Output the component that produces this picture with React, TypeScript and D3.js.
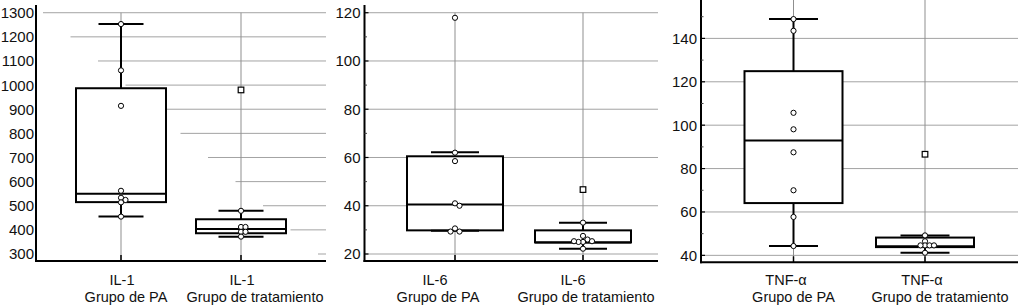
import React from "react";
import * as d3 from "d3";

const categories = ["Grupo de PA", "Grupo de tratamiento"];
const markers = ["IL-1", "IL-6", "TNF-α"];

const il1Box = [
  { lo: 455, q1: 515, med: 550, q3: 987, hi: 1253 },
  { lo: 372, q1: 386, med: 404, q3: 444, hi: 479 },
];
const il1Points = [
  [1253, 1061, 914, 562, 533, 524, 514, 455],
  [479, 412, 412, 392, 392, 372],
];
const il1Outliers = [[], [980]];
const il1Ticks = [300, 400, 500, 600, 700, 800, 900, 1000, 1100, 1200, 1300];
const il1Minor: number[] = [];

const il6Box = [
  { lo: 29.6, q1: 29.8, med: 40.5, q3: 60.5, hi: 62.2 },
  { lo: 22.2, q1: 24.8, med: 24.8, q3: 29.8, hi: 33 },
];
const il6Points = [
  [117.9, 62, 58.5, 41, 40, 30.6, 29.3, 29.3],
  [33, 27.5, 26, 25, 25, 25.3, 25.3, 22.2],
];
const il6Outliers = [[], [46.7]];
const il6Ticks = [20, 40, 60, 80, 100, 120];
const il6Minor = [30, 50, 70, 90, 110];

const tnfBox = [
  { lo: 44.3, q1: 64.1, med: 92.9, q3: 124.9, hi: 148.9 },
  { lo: 41.2, q1: 43.8, med: 44.2, q3: 48.2, hi: 49.2 },
];
const tnfPoints = [
  [148.9, 143.5, 105.7, 98.1, 87.5, 70, 57.7, 44.3],
  [49.2, 46.5, 44.6, 44.6, 44.6, 44.6, 41.2],
];
const tnfOutliers = [[], [86.6]];
const tnfTicks = [40, 60, 80, 100, 120, 140];
const tnfMinor = [50, 70, 90, 110, 130, 150];

const panels = [
  {
    marker: markers[0], box: il1Box, points: il1Points, outliers: il1Outliers, ticks: il1Ticks, minor: il1Minor,
    x0: 36, x1: 326, yTop: 5, yBottom: 261, domain: [271, 1332], centers: [121, 241],
    boxHalf: 45, capHalf: 22.5, stair: true, tickLen: 0, vTopVal: 1300,
    dx1: [1, 1], dx2: [5, 14],
  },
  {
    marker: markers[1], box: il6Box, points: il6Points, outliers: il6Outliers, ticks: il6Ticks, minor: il6Minor,
    x0: 364.5, x1: 658, yTop: 5, yBottom: 261, domain: [17.1, 123.2], centers: [455, 583],
    boxHalf: 48, capHalf: 24, stair: false, tickLen: 4, vTopVal: 120,
    dx1: [-20, -10], dx2: [-17, 3],
  },
  {
    marker: markers[2], box: tnfBox, points: tnfPoints, outliers: tnfOutliers, ticks: tnfTicks, minor: tnfMinor,
    x0: 701, x1: 1018, yTop: 0, yBottom: 262.3, domain: [36.8, 157.7], centers: [793.5, 925],
    boxHalf: 49, capHalf: 24.5, stair: false, tickLen: 4, vTopVal: null as number | null,
    dx1: [-7.5, -3], dx2: [0, 15],
  },
];

const FONT = "'Liberation Sans', Arial, Helvetica, sans-serif";
const GRID = "#a3a3a3";

function swarm(vals: number[], y: (v: number) => number, r: number) {
  const placed: { x: number; y: number }[] = [];
  const d = 4.5;
  const cands = [0, d, -d, 2 * d, -2 * d, 3 * d, -3 * d];
  return vals.map((v) => {
    const yy = y(v);
    let chosen = 0;
    for (const c of cands) {
      const ok = placed.every((p) => Math.hypot(p.x - c, p.y - yy) >= 4);
      if (ok) { chosen = c; break; }
    }
    placed.push({ x: chosen, y: yy });
    return { dx: chosen, y: yy };
  });
}

function Panel({ p }: { p: (typeof panels)[number] }) {
  const y = d3.scaleLinear().domain(p.domain).range([p.yBottom, p.yTop]);
  const x = d3.scalePoint<string>().domain(categories).range([p.centers[0], p.centers[1]]);
  const tickSorted = [...p.ticks].sort((a, b) => b - a);
  const stairStep = (p.x1 - p.x0 - 14) / tickSorted.length;
  const vTop = p.vTopVal == null ? p.yTop : y(p.vTopVal);
  return (
    <g>
      {tickSorted.map((t, i) => (
        <line key={"g" + t}
          x1={p.stair ? p.x0 + 7 + i * 27.5 : p.x0} x2={p.x1}
          y1={y(t)} y2={y(t)} stroke={GRID} strokeWidth={1} />
      ))}
      {categories.map((c) => (
        <line key={"v" + c} x1={x(c)} x2={x(c)} y1={vTop} y2={p.yBottom} stroke="#8f8f8f" strokeWidth={1} />
      ))}
      {categories.map((c, gi) => {
        const b = p.box[gi];
        const cx = x(c)!;
        return (
          <g key={"b" + c}>
            <rect x={cx - p.boxHalf} y={y(b.q3)} width={p.boxHalf * 2} height={y(b.q1) - y(b.q3)}
              fill="#fff" stroke="#000" strokeWidth={2} />
            <line x1={cx} x2={cx} y1={y(b.q3)} y2={y(b.hi)} stroke="#000" strokeWidth={2} />
            <line x1={cx} x2={cx} y1={y(b.q1)} y2={y(b.lo)} stroke="#000" strokeWidth={2} />
            <line x1={cx - p.capHalf} x2={cx + p.capHalf} y1={y(b.hi)} y2={y(b.hi)} stroke="#000" strokeWidth={2} />
            <line x1={cx - p.capHalf} x2={cx + p.capHalf} y1={y(b.lo)} y2={y(b.lo)} stroke="#000" strokeWidth={2} />
            <line x1={cx - p.boxHalf} x2={cx + p.boxHalf} y1={y(b.med)} y2={y(b.med)} stroke="#000" strokeWidth={2} />
          </g>
        );
      })}
      {categories.map((c, gi) => {
        const cx = x(c)!;
        const pts = swarm(p.points[gi], y, 2.5);
        return (
          <g key={"p" + c}>
            {pts.map((pt, i) => (
              <circle key={i} cx={cx + pt.dx} cy={pt.y} r={2.6} fill="#fff" stroke="#000" strokeWidth={1} />
            ))}
            {p.outliers[gi].map((o, i) => (
              <rect key={"o" + i} x={cx - 2.8} y={y(o) - 2.8} width={5.6} height={5.6} fill="#fff" stroke="#000" strokeWidth={1.2} />
            ))}
          </g>
        );
      })}
      {categories.map((c) => (
        <line key={"bt" + c} x1={x(c)} x2={x(c)} y1={p.yBottom - 6} y2={p.yBottom} stroke="#000" strokeWidth={1.5} />
      ))}
      <line x1={p.x0} x2={p.x0} y1={p.yTop} y2={p.yBottom + 1} stroke="#000" strokeWidth={2} />
      <line x1={p.x0 - 1} x2={p.x1} y1={p.yBottom} y2={p.yBottom} stroke="#000" strokeWidth={2} />
      {p.tickLen > 0 && p.ticks.map((t) => (
        <line key={"mt" + t} x1={p.x0} x2={p.x0 + p.tickLen} y1={y(t)} y2={y(t)} stroke="#000" strokeWidth={1.2} />
      ))}
      {p.tickLen > 0 && p.minor.map((t) => (
        <line key={"mn" + t} x1={p.x0} x2={p.x0 + 2.5} y1={y(t)} y2={y(t)} stroke="#444" strokeWidth={1} />
      ))}
      {p.ticks.map((t) => (
        <text key={"tl" + t} x={p.x0 - (p.tickLen > 0 ? 4 : 2)} y={y(t)} dy="0.36em" textAnchor="end"
          fontFamily={FONT} fontSize={15} fill="#111">{t}</text>
      ))}
      {categories.map((c, gi) => (
        <g key={"xl" + c}>
          <text x={x(c)! + p.dx1[gi]} y={285} textAnchor="middle" fontFamily={FONT} fontSize={14.5} fill="#111">{p.marker}</text>
          <text x={x(c)! + p.dx2[gi]} y={302} textAnchor="middle" fontFamily={FONT} fontSize={14.5} fill="#111">{c}</text>
        </g>
      ))}
    </g>
  );
}

export default function App() {
  return (
    <svg width={1018} height={307} style={{ position: "absolute", left: 0, top: 0, background: "#fff" }}>
      <rect width={1018} height={307} fill="#fff" />
      {panels.map((p) => (
        <Panel key={p.marker} p={p} />
      ))}
    </svg>
  );
}
